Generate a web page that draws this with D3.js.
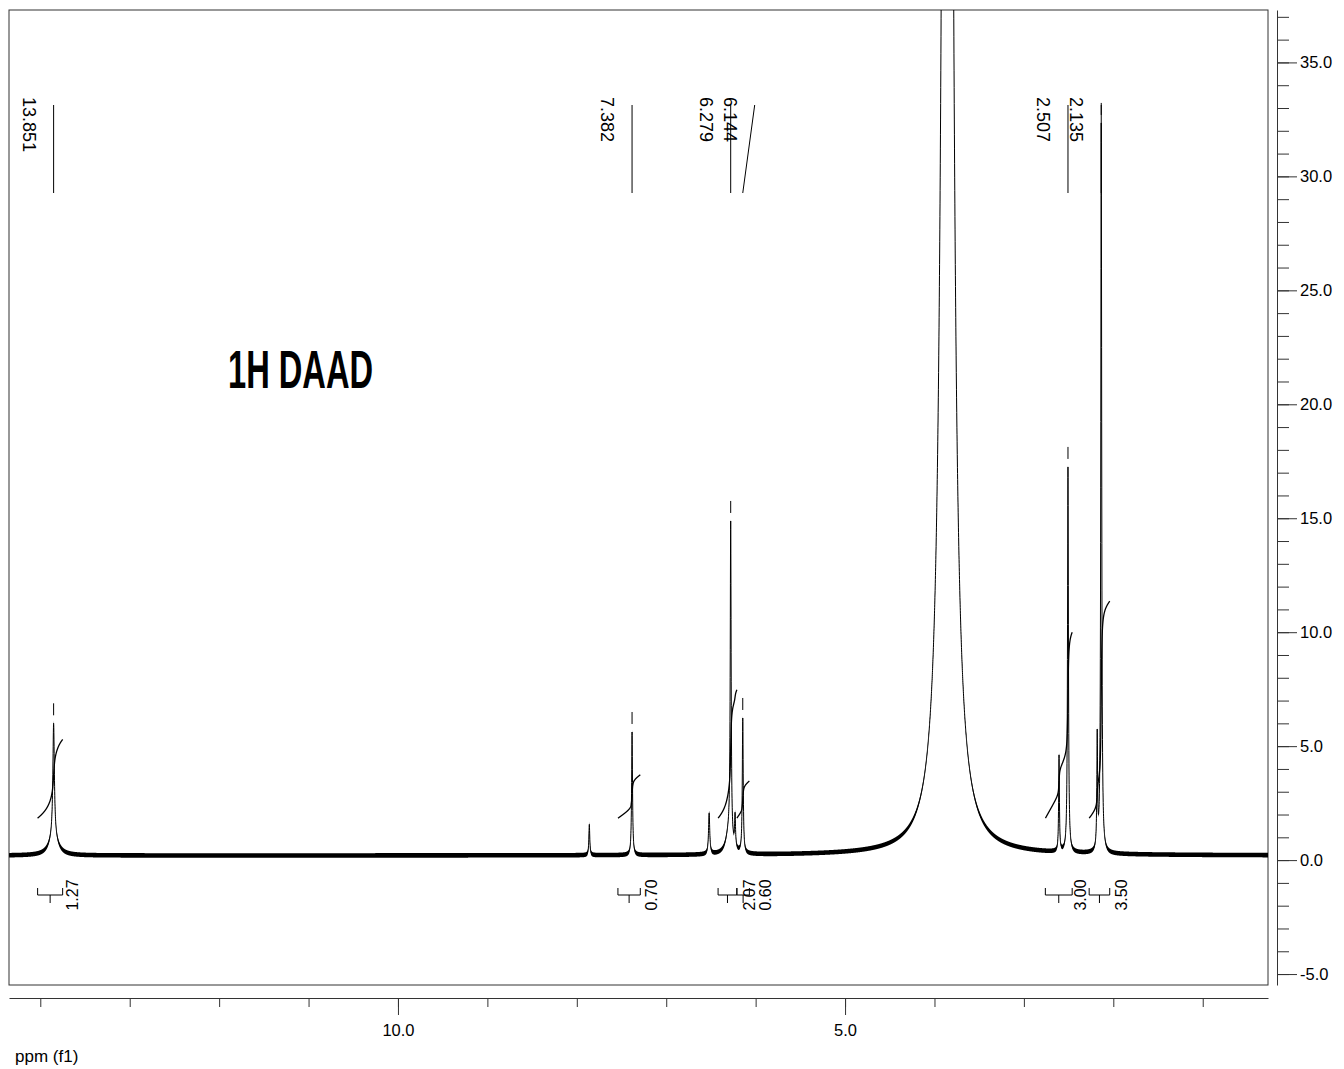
<!DOCTYPE html>
<html>
<head>
<meta charset="utf-8">
<script src="https://cdnjs.cloudflare.com/ajax/libs/d3/7.8.5/d3.min.js"></script>
<style>
  html, body { margin: 0; padding: 0; background: #fff; }
  svg { display: block; font-family: "Liberation Sans", Arial, sans-serif; }
</style>
</head>
<body>
<svg id="chart" width="1344" height="1069"></svg>
<script>
// Chemical-shift window (ppm, high field on the right) and intensity window
const ppmDomain = [14.35, 0.27];
const intensityDomain = [-5.48, 37.3];

// Resonances: position (ppm), apex height (intensity units), half width (ppm)
const peakShifts  = [13.851, 13.851, 7.86, 7.382, 6.52, 6.30, 6.279, 6.23, 6.144, 3.855, 2.607, 2.507, 2.18, 2.135];
const peakHeights = [5.0, 0.8, 1.35, 5.4, 1.8, 0.9, 13.9, 1.4, 5.9, 165, 4.2, 16.9, 4.9, 32.0];
const peakWidths  = [0.010, 0.06, 0.006, 0.006, 0.008, 0.04, 0.006, 0.006, 0.006, 0.038, 0.005, 0.006, 0.005, 0.006];
const baselineLevel = 0.2;
const noiseAmplitude = 0.1;

// Picked peaks (labelled shifts)
const pickedShifts = [13.851, 7.382, 6.279, 6.144, 2.507, 2.135];

// Integral regions and their normalised values
const integralFrom   = [14.03, 7.54, 6.42, 6.21, 2.76, 2.27];
const integralTo     = [13.75, 7.29, 6.21, 6.07, 2.46, 2.04];
const integralValues = [1.27, 0.70, 2.07, 0.60, 3.00, 3.50];

// Axis ticks
const xMajorTicks = [10, 5];
const xMinorTicks = [14, 13, 12, 11, 10, 9, 8, 7, 6, 5, 4, 3, 2, 1];
const yMajorTicks = [-5, 0, 5, 10, 15, 20, 25, 30, 35];
const yMinorTicks = d3.range(-5, 38, 1);

const titleText = "1H DAAD";
const xAxisTitle = "ppm (f1)";

// ---------------------------------------------------------------------------
const svg = d3.select("#chart");
const frame = { left: 9, top: 10, right: 1268, bottom: 985 };

const x = d3.scaleLinear().domain(ppmDomain).range([frame.left, frame.right]);
const y = d3.scaleLinear().domain(intensityDomain).range([frame.bottom, frame.top]);
const oneDecimal = d => d.toFixed(1);

// Sum of Lorentzian lines on a flat baseline
function intensity(p) {
  let s = baselineLevel;
  for (let i = 0; i < peakShifts.length; i++) {
    const u = (p - peakShifts[i]) / peakWidths[i];
    s += peakHeights[i] / (1 + u * u);
  }
  return s;
}

// Sample the spectrum, making sure each line centre is hit exactly
const samplePpm = d3.range(ppmDomain[1], ppmDomain[0], 0.001).concat(peakShifts).sort((a, b) => a - b);
const spectrum = samplePpm.map(p => ({ p, v: intensity(p) }));

svg.append("defs").append("clipPath").attr("id", "plotClip")
  .append("rect")
  .attr("x", frame.left).attr("y", frame.top)
  .attr("width", frame.right - frame.left).attr("height", frame.bottom - frame.top);

// Plot frame
svg.append("rect")
  .attr("x", frame.left).attr("y", frame.top)
  .attr("width", frame.right - frame.left).attr("height", frame.bottom - frame.top)
  .attr("fill", "none").attr("stroke", "#333").attr("stroke-width", 1);

const plot = svg.append("g").attr("clip-path", "url(#plotClip)");

// Spectrum trace with its noise band
plot.append("path")
  .datum(spectrum)
  .attr("fill", "#000")
  .attr("d", d3.area()
    .x(d => x(d.p))
    .y0(d => y(d.v - noiseAmplitude))
    .y1(d => y(d.v + noiseAmplitude)));

plot.append("path")
  .datum(spectrum)
  .attr("fill", "none").attr("stroke", "#000").attr("stroke-width", 1)
  .attr("d", d3.line().x(d => x(d.p)).y(d => y(d.v)));

// Integral curves (running integral over each region)
const integralBase = 1.84;     // intensity level where each curve starts
const integralGain = 2.72;     // intensity units per integral unit
integralValues.forEach((val, i) => {
  const pts = spectrum.filter(d => d.p <= integralFrom[i] && d.p >= integralTo[i]).slice().reverse();
  let acc = 0;
  const cum = pts.map((d, k) => {
    if (k > 0) acc += (pts[k - 1].v + d.v) / 2 * Math.abs(d.p - pts[k - 1].p);
    return { p: d.p, c: acc };
  });
  const total = acc || 1;
  plot.append("path")
    .datum(cum)
    .attr("fill", "none").attr("stroke", "#000").attr("stroke-width", 1.3)
    .attr("d", d3.line()
      .x(d => x(d.p))
      .y(d => y(integralBase + d.c / total * val * integralGain)));
});

// Peak apex markers
pickedShifts.forEach(p => {
  const ay = y(intensity(p));
  svg.append("line")
    .attr("x1", x(p)).attr("x2", x(p))
    .attr("y1", ay - 20).attr("y2", ay - 8)
    .attr("stroke", "#000").attr("stroke-width", 1);
});

// Peak labels with leader lines
const labelX = [];
pickedShifts.forEach((p, i) => {
  let lx = x(p) - 25;
  if (i > 0 && lx < labelX[i - 1] + 24) lx = labelX[i - 1] + 24;
  labelX.push(lx);
});
pickedShifts.forEach((p, i) => {
  svg.append("line")
    .attr("x1", labelX[i] + 25).attr("y1", 105)
    .attr("x2", x(p)).attr("y2", 193)
    .attr("stroke", "#000").attr("stroke-width", 1);
  svg.append("text")
    .attr("transform", `translate(${labelX[i]},97) rotate(90)`)
    .attr("dominant-baseline", "central")
    .attr("font-size", 18)
    .attr("fill", "#000")
    .text(d3.format(".3f")(p));
});

// Integral brackets and values
const bracketY = 895;
const intLabelX = [];
integralValues.forEach((v, i) => {
  let lx = (x(integralFrom[i]) + x(integralTo[i])) / 2 + 22;
  if (i > 0 && lx < intLabelX[i - 1] + 15) lx = intLabelX[i - 1] + 15;
  intLabelX.push(lx);
});
integralValues.forEach((v, i) => {
  const x1 = x(integralFrom[i]), x2 = x(integralTo[i]), xm = (x1 + x2) / 2;
  svg.append("path")
    .attr("d", `M${x1},${bracketY - 7}V${bracketY}H${x2}V${bracketY - 7}M${xm},${bracketY}V${bracketY + 8}`)
    .attr("fill", "none").attr("stroke", "#000").attr("stroke-width", 1);
  svg.append("text")
    .attr("transform", `translate(${intLabelX[i]},${bracketY}) rotate(-90)`)
    .attr("text-anchor", "middle")
    .attr("dominant-baseline", "central")
    .attr("font-size", 16)
    .attr("fill", "#000")
    .text(d3.format(".2f")(v));
});

// Title
svg.append("text")
  .attr("x", 228).attr("y", 388)
  .attr("font-size", 54).attr("font-weight", "bold")
  .attr("textLength", 145).attr("lengthAdjust", "spacingAndGlyphs")
  .attr("fill", "#000")
  .text(titleText);

// Bottom ppm axis
const axisY = 998;
const gxMinor = svg.append("g").attr("transform", `translate(0,${axisY})`)
  .call(d3.axisBottom(x).tickValues(xMinorTicks).tickSize(9).tickSizeOuter(0).tickFormat(""));
const gxMajor = svg.append("g").attr("transform", `translate(0,${axisY})`)
  .call(d3.axisBottom(x).tickValues(xMajorTicks).tickSize(17).tickSizeOuter(0).tickPadding(9)
    .tickFormat(oneDecimal));
gxMajor.select(".domain").remove();
[gxMinor, gxMajor].forEach(g => {
  g.selectAll("line, path").attr("stroke", "#333");
  g.selectAll("text").attr("font-size", 16.5).attr("fill", "#000")
    .attr("font-family", "Liberation Sans, Arial, sans-serif");
});

svg.append("text")
  .attr("x", 15).attr("y", 1062)
  .attr("font-size", 17).attr("fill", "#000")
  .text(xAxisTitle);

// Right intensity axis
const axisX = 1277;
const gyMinor = svg.append("g").attr("transform", `translate(${axisX},0)`)
  .call(d3.axisRight(y).tickValues(yMinorTicks).tickSize(12).tickSizeOuter(0).tickFormat(""));
const gyMajor = svg.append("g").attr("transform", `translate(${axisX},0)`)
  .call(d3.axisRight(y).tickValues(yMajorTicks).tickSize(20).tickSizeOuter(0).tickPadding(3)
    .tickFormat(oneDecimal));
gyMajor.select(".domain").remove();
[gyMinor, gyMajor].forEach(g => {
  g.selectAll("line, path").attr("stroke", "#333");
  g.selectAll("text").attr("font-size", 16.5).attr("fill", "#000")
    .attr("font-family", "Liberation Sans, Arial, sans-serif");
});
</script>
</body>
</html>
